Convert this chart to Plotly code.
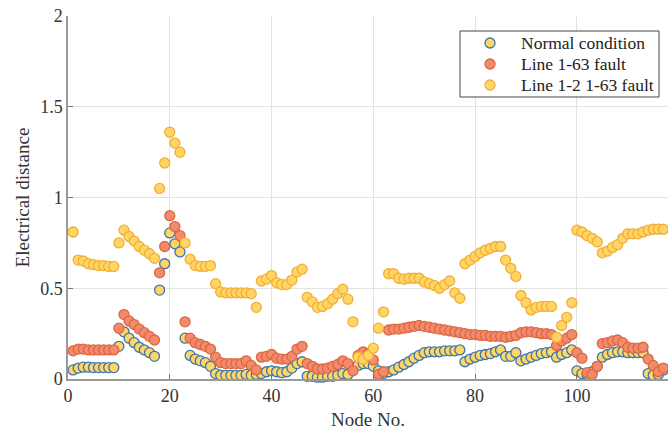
import plotly.graph_objects as go

# Node numbers of the 118-bus test system
nodes = list(range(1, 119))

# Electrical distance per node under each operating case
normal_condition = [
    0.05, 0.06, 0.065, 0.065, 0.063, 0.063, 0.063, 0.063, 0.063, 0.18,
    0.26, 0.225, 0.20, 0.175, 0.16, 0.145, 0.125, 0.49, 0.635, 0.805,
    0.745, 0.70, 0.225, 0.13, 0.11, 0.10, 0.09, 0.07, 0.03, 0.02,
    0.02, 0.02, 0.02, 0.02, 0.025, 0.02, 0.025, 0.03, 0.04, 0.045,
    0.04, 0.035, 0.04, 0.06, 0.085, 0.095, 0.015, 0.015, 0.01, 0.01,
    0.015, 0.015, 0.02, 0.03, 0.025, 0.06, 0.075, 0.085, 0.085, 0.07,
    0.045, 0.03, 0.04, 0.05, 0.065, 0.08, 0.095, 0.115, 0.13, 0.145,
    0.15, 0.15, 0.15, 0.155, 0.155, 0.155, 0.16, 0.095, 0.11, 0.12,
    0.13, 0.135, 0.14, 0.15, 0.16, 0.125, 0.125, 0.145, 0.10, 0.11,
    0.12, 0.13, 0.14, 0.145, 0.15, 0.12, 0.135, 0.145, 0.16, 0.045,
    0.03, 0.025, 0.04, 0.07, 0.12, 0.135, 0.145, 0.15, 0.15, 0.145,
    0.145, 0.145, 0.145, 0.03, 0.02, 0.025, 0.05, 0.075,
]

line_1_63_fault = [
    0.155, 0.165, 0.165, 0.16, 0.16, 0.16, 0.16, 0.16, 0.16, 0.28,
    0.355, 0.32, 0.30, 0.275, 0.255, 0.235, 0.215, 0.585, 0.73, 0.90,
    0.84, 0.79, 0.315, 0.225, 0.20, 0.19, 0.18, 0.165, 0.12, 0.09,
    0.085, 0.085, 0.085, 0.085, 0.10, 0.075, 0.05, 0.12, 0.125, 0.135,
    0.115, 0.11, 0.11, 0.125, 0.165, 0.18, 0.085, 0.07, 0.055, 0.055,
    0.06, 0.07, 0.08, 0.10, 0.085, 0.045, 0.13, 0.15, 0.14, 0.105,
    0.025, 0.04, 0.27, 0.275, 0.275, 0.28, 0.285, 0.29, 0.295, 0.29,
    0.285, 0.28, 0.275, 0.27, 0.265, 0.26, 0.255, 0.25, 0.245, 0.245,
    0.24, 0.24, 0.235, 0.235, 0.235, 0.23, 0.235, 0.24, 0.255, 0.26,
    0.26, 0.255, 0.25, 0.25, 0.245, 0.185, 0.21, 0.225, 0.245, 0.145,
    0.115, 0.035, 0.025, 0.07, 0.195, 0.20, 0.21, 0.215, 0.20, 0.175,
    0.17, 0.17, 0.175, 0.11, 0.075, 0.04, 0.06, 0.105,
]

line_1_2_1_63_fault = [
    0.81, 0.655, 0.65, 0.635, 0.63, 0.625, 0.625, 0.62, 0.62, 0.75,
    0.82, 0.785, 0.76, 0.73, 0.71, 0.69, 0.665, 1.05, 1.19, 1.36,
    1.30, 1.25, 0.75, 0.66, 0.625, 0.62, 0.62, 0.625, 0.525, 0.48,
    0.475, 0.475, 0.475, 0.475, 0.475, 0.47, 0.395, 0.54, 0.55, 0.57,
    0.53, 0.52, 0.52, 0.545, 0.59, 0.605, 0.45, 0.425, 0.395, 0.40,
    0.415, 0.44, 0.47, 0.495, 0.44, 0.315, 0.12, 0.11, 0.13, 0.17,
    0.28, 0.37, 0.58, 0.58, 0.555, 0.55, 0.555, 0.555, 0.555, 0.535,
    0.525, 0.515, 0.50, 0.52, 0.54, 0.475, 0.445, 0.635, 0.655, 0.675,
    0.695, 0.71, 0.72, 0.73, 0.73, 0.655, 0.61, 0.565, 0.46, 0.42,
    0.38, 0.395, 0.40, 0.40, 0.40, 0.23, 0.295, 0.34, 0.42, 0.82,
    0.81, 0.79, 0.775, 0.755, 0.695, 0.705, 0.725, 0.74, 0.775, 0.80,
    0.80, 0.80, 0.81, 0.82, 0.825, 0.825, 0.825, 0.82,
]

x_ticks = [0, 20, 40, 60, 80, 100]
y_ticks = [0, 0.5, 1, 1.5, 2]
y_tick_labels = ["0", "0.5", "1", "1.5", "2"]

series = [
    ("Normal condition", normal_condition, "#ffd666", "#3a76b0"),
    ("Line 1-63 fault", line_1_63_fault, "#f28a6c", "#de6640"),
    ("Line 1-2 1-63 fault", line_1_2_1_63_fault, "#ffd666", "#f4ad35"),
]

serif = "Liberation Serif"

W, H = 668, 433
M_L, M_R, M_T, M_B = 68, 0, 16, 54
PLOT_W, PLOT_H = W - M_L - M_R, H - M_T - M_B


def px_to_paper_x(px):
    return (px - M_L) / PLOT_W


def py_to_paper_y(py):
    return (H - M_B - py) / PLOT_H


fig = go.Figure()
for name, values, fill, edge in series:
    fig.add_trace(go.Scatter(
        x=nodes, y=values, mode="markers", name=name,
        cliponaxis=False, showlegend=False,
        marker=dict(size=10, color=fill, line=dict(color=edge, width=1.3)),
    ))

# Boxed key in the upper right corner (pixel-based layout)
legend_box = dict(left=460, right=659, top=31, bottom=97)
row_y = [43, 64, 85]
shapes = [dict(
    type="rect", xref="paper", yref="paper",
    x0=px_to_paper_x(legend_box["left"]), x1=px_to_paper_x(legend_box["right"]),
    y0=py_to_paper_y(legend_box["bottom"]), y1=py_to_paper_y(legend_box["top"]),
    line=dict(color="#444444", width=1), fillcolor="white", layer="above",
)]
annotations = []
for (name, _, fill, edge), ry in zip(series, row_y):
    shapes.append(dict(
        type="circle", xref="paper", yref="paper",
        xsizemode="pixel", ysizemode="pixel",
        xanchor=px_to_paper_x(490), yanchor=py_to_paper_y(ry),
        x0=-5, x1=5, y0=-5, y1=5,
        fillcolor=fill, line=dict(color=edge, width=1.3), layer="above",
    ))
    annotations.append(dict(
        text=name, xref="paper", yref="paper",
        x=px_to_paper_x(519), y=py_to_paper_y(ry),
        xanchor="left", yanchor="middle", showarrow=False,
        font=dict(family=serif, size=17.5, color="#222222"),
    ))

fig.update_layout(
    width=W, height=H,
    margin=dict(l=M_L, r=M_R, t=M_T, b=M_B),
    paper_bgcolor="white", plot_bgcolor="white",
    font=dict(family=serif, size=18, color="#333333"),
    showlegend=False,
    shapes=shapes,
    annotations=annotations,
)

fig.update_xaxes(
    range=[0, 117.9], tickvals=x_ticks,
    showgrid=True, gridcolor="#e3e3e3", gridwidth=1,
    showline=True, linecolor="#9a9a9a", linewidth=1.5,
    ticks="inside", ticklen=5, tickcolor="#777777",
    zeroline=False,
    title=dict(text="Node No.", font=dict(family=serif, size=19), standoff=7),
    tickfont=dict(family=serif, size=18),
)
fig.update_yaxes(
    range=[0, 2], tickvals=y_ticks, ticktext=y_tick_labels,
    showgrid=True, gridcolor="#e3e3e3", gridwidth=1,
    showline=True, linecolor="#9a9a9a", linewidth=1.5,
    ticks="inside", ticklen=5, tickcolor="#777777",
    zeroline=False,
    title=dict(text="Electrical distance", font=dict(family=serif, size=19), standoff=6),
    tickfont=dict(family=serif, size=18),
)

fig.write_html("out.html")
